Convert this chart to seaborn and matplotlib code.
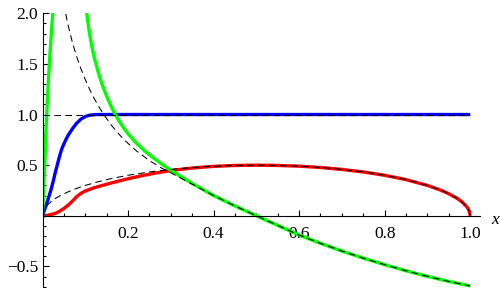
import numpy as np
import pandas as pd
import matplotlib
matplotlib.use("Agg")
import matplotlib.pyplot as plt
import seaborn as sns
from matplotlib.ticker import MultipleLocator, FixedLocator

# --- Data ---
red_x = [0, 0.01, 0.02, 0.03, 0.04, 0.05, 0.06, 0.07, 0.08, 0.09, 0.10, 0.12,
         0.14, 0.16, 0.18, 0.20, 0.23, 0.26, 0.30, 0.35, 0.40, 0.45, 0.50, 0.55,
         0.60, 0.65, 0.70, 0.75, 0.80, 0.85, 0.90, 0.93, 0.95, 0.97, 0.98, 0.99,
         0.995, 0.998, 1.0]
red_y = [0, 0.004, 0.012, 0.024, 0.045, 0.072, 0.105, 0.145, 0.19, 0.222, 0.245,
         0.276, 0.300, 0.323, 0.345, 0.366, 0.394, 0.419, 0.447, 0.472, 0.488,
         0.497, 0.500, 0.497, 0.490, 0.477, 0.458, 0.433, 0.400, 0.357, 0.300,
         0.255, 0.218, 0.171, 0.140, 0.099, 0.071, 0.045, 0]

red_ref_x = [0, 0.002, 0.005, 0.01, 0.02, 0.03, 0.04, 0.06, 0.08, 0.10, 0.13,
             0.16, 0.20, 0.25, 0.30, 0.35, 0.40, 0.45, 0.50, 0.55, 0.60, 0.65,
             0.70, 0.75, 0.80, 0.85, 0.90, 0.93, 0.95, 0.97, 0.98, 0.99, 0.995,
             0.998, 1.0]
red_ref_y = [0, 0.045, 0.0705, 0.0995, 0.14, 0.171, 0.196, 0.237, 0.271, 0.300,
             0.336, 0.367, 0.400, 0.433, 0.458, 0.477, 0.490, 0.497, 0.500, 0.497,
             0.490, 0.477, 0.458, 0.433, 0.400, 0.357, 0.300, 0.255, 0.218, 0.171,
             0.140, 0.099, 0.071, 0.045, 0]

blue_x = [0, 0.005, 0.01, 0.015, 0.02, 0.025, 0.03, 0.035, 0.04, 0.045, 0.05,
          0.055, 0.06, 0.07, 0.08, 0.09, 0.10, 0.11, 0.12, 0.13, 0.2, 1.0]
blue_y = [0, 0.06, 0.125, 0.19, 0.26, 0.34, 0.43, 0.51, 0.59, 0.66, 0.71, 0.755,
          0.795, 0.86, 0.915, 0.955, 0.98, 0.993, 0.998, 1.0, 1.0, 1.0]

blue_ref_x = [0, 1.0]
blue_ref_y = [1.0, 1.0]

green_left_x = [0, 0.002, 0.004, 0.006, 0.008, 0.010, 0.013, 0.016, 0.019,
                0.022, 0.025]
green_left_y = [0, 0.2, 0.4, 0.6, 0.82, 1.02, 1.28, 1.5, 1.7, 1.88, 2.05]

green_x = [0.10, 0.105, 0.11, 0.115, 0.12, 0.13, 0.14, 0.15, 0.16, 0.17, 0.18,
           0.19, 0.20, 0.22, 0.24, 0.26, 0.28, 0.30, 0.33, 0.36, 0.40, 0.45,
           0.50, 0.55, 0.60, 0.65, 0.70, 0.75, 0.80, 0.85, 0.90, 0.95, 1.0]
green_y = [2.12, 1.95, 1.80, 1.68, 1.58, 1.42, 1.29, 1.18, 1.085, 1.0, 0.93,
           0.867, 0.81, 0.715, 0.637, 0.57, 0.508, 0.45, 0.37, 0.295, 0.20,
           0.097, 0.0, -0.095, -0.19, -0.272, -0.348, -0.418, -0.483, -0.543,
           -0.598, -0.648, -0.693]

green_ref_x = [0.05, 0.055, 0.06, 0.07, 0.08, 0.09, 0.10, 0.11, 0.12, 0.13,
               0.14, 0.16, 0.18, 0.20, 0.22, 0.25, 0.28, 0.30, 0.33, 0.36, 0.40,
               0.45, 0.50, 0.55, 0.60, 0.65, 0.70, 0.75, 0.80, 0.85, 0.90, 0.95,
               1.0]
green_ref_y = [2.1, 1.98, 1.88, 1.71, 1.57, 1.45, 1.345, 1.25, 1.165, 1.09,
               1.02, 0.90, 0.80, 0.715, 0.64, 0.545, 0.468, 0.425, 0.357, 0.29,
               0.20, 0.097, 0.0, -0.095, -0.19, -0.272, -0.348, -0.418, -0.483,
               -0.543, -0.598, -0.648, -0.693]

x_ticks = [0.2, 0.4, 0.6, 0.8, 1.0]
y_ticks = [-0.5, 0.5, 1.0, 1.5, 2.0]

# --- Style ---
sns.set_theme(style="white")
SERIF = ["Liberation Serif", "DejaVu Serif"]
plt.rcParams["font.family"] = SERIF
plt.rcParams["axes.unicode_minus"] = True
FS = 12.5

fig = plt.figure(figsize=(5.0, 2.88), dpi=100)
ax = fig.add_axes([0.085, 0.001, 0.875, 0.953])

LW = 2.4
solid = [
    (red_x, red_y, "#ff0000"),
    (blue_x, blue_y, "#0000ff"),
    (green_left_x, green_left_y, "#00ff00"),
    (green_x, green_y, "#00ff00"),
]
for xs, ys, col in solid:
    sns.lineplot(x=xs, y=ys, color=col, lw=LW, ax=ax, sort=False,
                 estimator=None, solid_capstyle="butt")

dashed = [(red_ref_x, red_ref_y), (blue_ref_x, blue_ref_y),
          (green_ref_x, green_ref_y)]
for xs, ys in dashed:
    sns.lineplot(x=xs, y=ys, color="black", lw=0.75, ax=ax, sort=False,
                 estimator=None, linestyle=(0, (6.4, 4.1)))

ax.set_xlim(0, 1.023)
ax.set_ylim(-0.71, 2.0)

# Mathematica-style axes through the origin
for side in ["top", "right"]:
    ax.spines[side].set_visible(False)
ax.spines["left"].set_position(("data", 0))
ax.spines["bottom"].set_position(("data", 0))
for side in ["left", "bottom"]:
    ax.spines[side].set_color("black")
    ax.spines[side].set_linewidth(0.8)

ax.xaxis.set_major_locator(FixedLocator(x_ticks))
ax.xaxis.set_minor_locator(MultipleLocator(0.05))
ax.yaxis.set_major_locator(FixedLocator(y_ticks))
ax.yaxis.set_minor_locator(MultipleLocator(0.1))
ax.set_xticklabels([f"{t:.1f}" for t in x_ticks], fontfamily=SERIF,
                   fontsize=FS, color="black")
ax.set_yticklabels([f"{t:.1f}".replace("-", "\u2212") for t in y_ticks],
                   fontfamily=SERIF, fontsize=FS, color="black")

ax.tick_params(axis="both", which="both", direction="in", color="black",
               width=0.8)
ax.tick_params(axis="both", which="major", length=4.3)
ax.tick_params(axis="both", which="minor", length=2.4)
ax.tick_params(axis="x", which="major", pad=7.0, bottom=True)
ax.tick_params(axis="y", which="major", pad=3.2, left=True)
ax.tick_params(axis="x", which="minor", bottom=True)
ax.tick_params(axis="y", which="minor", left=True)

ax.text(1.058, -0.04, "x", style="italic", fontsize=FS, family=SERIF,
        color="black", ha="center", va="center", clip_on=False)

fig.savefig("out.png", dpi=100, facecolor="white")
